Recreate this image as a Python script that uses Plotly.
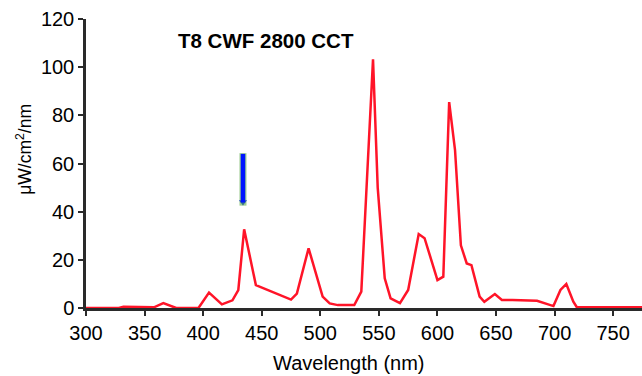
import plotly.graph_objects as go

wavelength = [300, 328, 332, 350, 358, 366, 377, 396, 405, 416, 425, 430, 435, 445,
              475, 480, 490, 502, 508, 515, 529, 535, 545, 549, 555, 560, 568, 575,
              584, 589, 600, 605, 610, 615, 620, 625, 629, 636, 640, 649, 655, 664,
              685, 699, 705, 710, 716, 719, 775]
irradiance = [0, 0, 0.5, 0.5, 0.3, 2, 0, 0, 6.4, 1.5, 3.2, 7.4, 32.7, 9.5,
              3.5, 6, 24.8, 4.7, 1.9, 1.2, 1.2, 6.8, 103.3, 50, 12.3, 4, 2, 7.5,
              30.7, 29, 11.6, 13, 85.5, 65.6, 26, 18.5, 17.8, 4.7, 2.6, 5.8, 3.3, 3.3,
              3, 0.8, 7.5, 10, 2.6, 0.3, 0.3]

x_ticks = [300, 350, 400, 450, 500, 550, 600, 650, 700, 750]
y_ticks = [0, 20, 40, 60, 80, 100, 120]

arrow_x = 434
arrow_top = 64
arrow_tip = 42.8

title_text = "<b>T8 CWF 2800 CCT</b>"
x_title = "Wavelength (nm)"
y_title = "μW/cm<sup>2</sup>/nm"

font = "Liberation Sans, Arial, sans-serif"

fig = go.Figure()
fig.add_trace(go.Scatter(x=wavelength, y=irradiance, mode="lines",
                         line=dict(color="rgb(255,20,40)", width=2.5),
                         showlegend=False, hoverinfo="skip"))

# arrow: soft green outline under a blue shaft, with a tiny head
fig.add_shape(type="line", xref="x", yref="y", x0=arrow_x, x1=arrow_x,
              y0=arrow_top + 0.3, y1=arrow_tip - 0.3,
              line=dict(color="rgba(90,170,70,0.6)", width=7))
fig.add_shape(type="line", xref="x", yref="y", x0=arrow_x, x1=arrow_x,
              y0=arrow_top, y1=arrow_tip + 1.0,
              line=dict(color="rgb(0,20,255)", width=4.5))
fig.add_trace(go.Scatter(x=[arrow_x], y=[arrow_tip + 1.2], mode="markers",
                         marker=dict(symbol="triangle-down", size=7,
                                     color="rgb(0,20,255)"),
                         showlegend=False, hoverinfo="skip"))

axis_common = dict(showline=True, linecolor="#2a2a2a", linewidth=2.5,
                   ticks="outside", ticklen=5, tickwidth=2, tickcolor="#2a2a2a",
                   showgrid=False, zeroline=False,
                   tickfont=dict(family=font, size=20, color="black"))

fig.update_xaxes(range=[300, 774.6], tickvals=x_ticks, **axis_common)
fig.update_yaxes(range=[0, 120], tickvals=y_ticks, **axis_common)

fig.add_annotation(text=title_text, xref="paper", yref="paper", x=0.323, y=0.927,
                   showarrow=False, xanchor="center", yanchor="middle",
                   font=dict(family=font, size=20.5, color="black"))
fig.add_annotation(text=x_title, xref="paper", yref="paper", x=0.473, y=-0.19,
                   showarrow=False, xanchor="center", yanchor="middle",
                   font=dict(family=font, size=20, color="black"))
fig.add_annotation(text=y_title, xref="paper", yref="paper", x=-0.112, y=0.55,
                   showarrow=False, xanchor="center", yanchor="middle", textangle=-90,
                   font=dict(family=font, size=17.5, color="black"))

fig.update_layout(width=642, height=376,
                  margin=dict(l=86, r=0, t=19, b=68),
                  paper_bgcolor="white", plot_bgcolor="white")

fig.write_html("out.html")
